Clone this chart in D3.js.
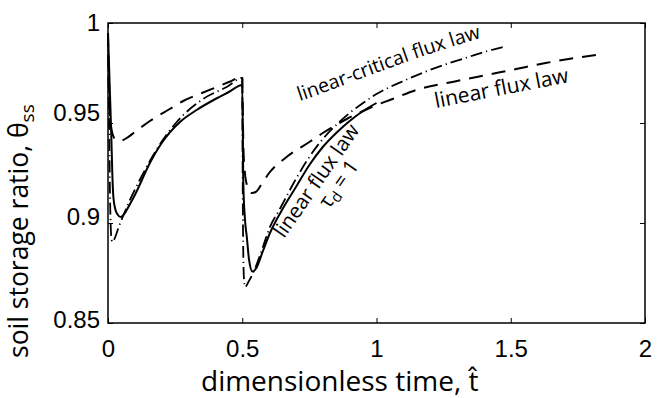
<!DOCTYPE html>
<html><head><meta charset="utf-8">
<script src="https://cdn.jsdelivr.net/npm/d3@7"></script>
<style>body{margin:0;background:#fff}</style>
</head><body>
<svg id="c" width="667" height="398"></svg>
<script>
// ---- data ----
const xTicks = [0, 0.5, 1, 1.5, 2];
const xTickLabels = ["0", "0.5", "1", "1.5", "2"];
const yTicks = [0.85, 0.9, 0.95, 1];
const yTickLabels = ["0.85", "0.9", "0.95", "1"];

// linear flux law, tau_d = 1 (solid)
const solidT = [0, 0.006, 0.012, 0.016, 0.02, 0.027, 0.037, 0.047, 0.06, 0.08, 0.1, 0.156, 0.2, 0.268, 0.33, 0.4, 0.45, 0.5,
  0.504, 0.51, 0.517, 0.525, 0.538, 0.55, 0.577, 0.6, 0.65, 0.7, 0.75, 0.8, 0.85, 0.9, 0.95, 1.0];
const solidV = [0.995, 0.97, 0.945, 0.925, 0.913, 0.907, 0.904, 0.903, 0.9045, 0.909, 0.914, 0.93, 0.94, 0.9505, 0.9565, 0.962, 0.9655, 0.969,
  0.92, 0.902, 0.893, 0.882, 0.8757, 0.877, 0.886, 0.894, 0.907, 0.918, 0.929, 0.938, 0.945, 0.951, 0.956, 0.960];

// linear flux law (dashed)
const dashT = [0, 0.004, 0.01, 0.018, 0.03, 0.045, 0.07, 0.1, 0.156, 0.23, 0.28, 0.35, 0.405, 0.45, 0.5,
  0.502, 0.505, 0.51, 0.52, 0.535, 0.55, 0.57, 0.6, 0.665, 0.75, 0.8, 0.889, 0.95, 1.0, 1.05, 1.16, 1.3, 1.41, 1.52, 1.63, 1.74, 1.82];
const dashV = [0.995, 0.965, 0.95, 0.944, 0.9415, 0.941, 0.9425, 0.9455, 0.951, 0.957, 0.961, 0.965, 0.968, 0.9705, 0.973,
  0.955, 0.935, 0.925, 0.918, 0.915, 0.9155, 0.919, 0.925, 0.933, 0.9405, 0.945, 0.952, 0.956, 0.959, 0.9615, 0.967, 0.971, 0.974, 0.977, 0.98, 0.9825, 0.984];

// linear-critical flux law (dash-dot)
const ddT = [0, 0.004, 0.008, 0.012, 0.016, 0.022, 0.04, 0.08, 0.12, 0.156, 0.18, 0.256, 0.354, 0.442, 0.5,
  0.501, 0.503, 0.506, 0.51, 0.525, 0.55, 0.577, 0.6, 0.64, 0.7, 0.74, 0.8, 0.85, 0.9, 0.95, 1.0, 1.05, 1.1, 1.17, 1.25, 1.32, 1.4, 1.47];
const ddV = [0.995, 0.95, 0.91, 0.8935, 0.8905, 0.8915, 0.898, 0.911, 0.922, 0.931, 0.9365, 0.9505, 0.962, 0.968, 0.9725,
  0.94, 0.895, 0.873, 0.868, 0.871, 0.878, 0.888, 0.897, 0.907, 0.922, 0.931, 0.942, 0.949, 0.955, 0.96, 0.9645, 0.968, 0.971, 0.975, 0.979, 0.982, 0.9855, 0.988];

// ---- chart ----
const svg = d3.select("#c");
const L = 108, R = 645, T = 23, B = 323;
const x = d3.scaleLinear().domain([0, 2]).range([L, R]);
const y = d3.scaleLinear().domain([0.85, 1]).range([B, T]);
const tickFont = "'Liberation Sans', Arial, sans-serif";
const textFont = "'Open Sans', 'Noto Sans', sans-serif";

const line = d3.line().x(d => x(d[0])).y(d => y(d[1])).curve(d3.curveMonotoneX);
const zip = (a, b) => a.map((t, i) => [t, b[i]]);

const g = svg.append("g");
g.append("path").datum(zip(solidT, solidV)).attr("d", line)
  .attr("fill", "none").attr("stroke", "#000").attr("stroke-width", 2);
g.append("path").datum(zip(dashT, dashV)).attr("d", line)
  .attr("fill", "none").attr("stroke", "#000").attr("stroke-width", 2)
  .attr("stroke-dasharray", "14,9");
g.append("path").datum(zip(ddT, ddV)).attr("d", line)
  .attr("fill", "none").attr("stroke", "#000").attr("stroke-width", 1.8)
  .attr("stroke-dasharray", "12,4,1.2,4");

// axes
const ax = (sel) => { sel.select(".domain").remove(); sel.selectAll("line").attr("stroke", "#000").attr("stroke-width", 1); };
svg.append("g").attr("transform", `translate(0,${B})`)
  .call(d3.axisBottom(x).tickValues(xTicks).tickFormat((d, i) => xTickLabels[i]).tickSizeInner(-5).tickSizeOuter(0).tickPadding(17))
  .call(ax).selectAll("text").attr("font-family", tickFont).attr("font-size", 24).attr("fill", "#000");
svg.append("g").attr("transform", `translate(0,${T})`)
  .call(d3.axisTop(x).tickValues(xTicks).tickFormat("").tickSizeInner(-5).tickSizeOuter(0)).call(ax);
const yLabelShift = [-3, -6, -10, 0];
svg.append("g").attr("transform", `translate(${L},0)`)
  .call(d3.axisLeft(y).tickValues(yTicks).tickFormat((d, i) => yTickLabels[i]).tickSizeInner(-5).tickSizeOuter(0).tickPadding(8))
  .call(ax).selectAll("text").attr("font-family", tickFont).attr("font-size", 24).attr("fill", "#000")
  .attr("y", (d, i) => yLabelShift[i]);
svg.append("g").attr("transform", `translate(${R},0)`)
  .call(d3.axisRight(y).tickValues(yTicks).tickFormat("").tickSizeInner(-5).tickSizeOuter(0)).call(ax);

svg.append("rect").attr("x", L).attr("y", T).attr("width", R - L).attr("height", B - T)
  .attr("fill", "none").attr("stroke", "#000").attr("stroke-width", 1.5);

// axis titles
svg.append("text").attr("x", 201).attr("y", 391).attr("font-family", textFont).attr("font-size", 28)
  .text("dimensionless time, t\u0302");
const yt = svg.append("text").attr("transform", "translate(28,358) rotate(-90)")
  .attr("font-family", textFont).attr("font-size", 26.5);
yt.append("tspan").text("soil storage ratio, \u03b8");
yt.append("tspan").attr("font-size", 19).attr("dy", 6).text("ss");

// curve labels
svg.append("path").attr("id", "lcpath").attr("d", "M 300 101 C 340 88, 440 45, 515 30").attr("fill", "none");
svg.append("text").attr("font-family", textFont).attr("font-size", 19.5)
  .append("textPath").attr("href", "#lcpath").text("linear-critical flux law");
svg.append("text").attr("transform", "translate(436,108) rotate(-11)")
  .attr("font-family", textFont).attr("font-size", 21).text("linear flux law");
const lt = svg.append("g").attr("transform", "translate(284,239) rotate(-55)")
  .attr("font-family", textFont).attr("font-size", 20.5);
lt.append("text").text("linear flux law");
const t2 = lt.append("text").attr("x", 50).attr("y", 20);
t2.append("tspan").text("\u03c4");
t2.append("tspan").attr("font-size", 15).attr("dy", 4).text("d");
t2.append("tspan").attr("dy", -4).text(" = 1");
</script>
</body></html>
